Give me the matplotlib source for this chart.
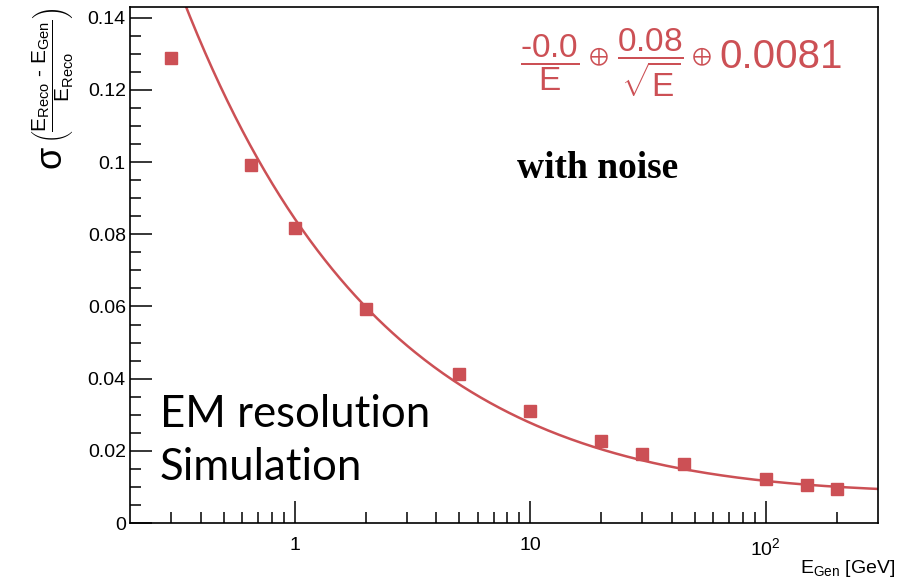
import numpy as np
import matplotlib
matplotlib.use("Agg")
import matplotlib.pyplot as plt
from matplotlib.ticker import FixedLocator, NullFormatter, FixedFormatter, MultipleLocator

plt.rcParams['font.family'] = ['Liberation Sans', 'DejaVu Sans']
plt.rcParams['mathtext.fontset'] = 'custom'
plt.rcParams['mathtext.rm'] = 'Liberation Sans'
plt.rcParams['mathtext.it'] = 'Liberation Sans'
plt.rcParams['mathtext.bf'] = 'Liberation Sans:bold'
plt.rcParams['mathtext.default'] = 'regular'

# ---- data ----
energy = [0.3, 0.65, 1, 2, 5, 10, 20, 30, 45, 100, 150, 200]
resolution = [0.129, 0.0992, 0.0817, 0.0593, 0.0413, 0.031, 0.0227,
              0.0191, 0.0163, 0.0122, 0.0105, 0.0094]
# fit parameters  sigma/E = a/E (+) b/sqrt(E) (+) c
fit_a, fit_b, fit_c = 0.0, 0.084, 0.0081
x_major = [1, 10, 100]
x_major_labels = ["1", "10", "$10^{2}$"]
x_minor = [0.3, 0.4, 0.5, 0.6, 0.7, 0.8, 0.9, 2, 3, 4, 5, 6, 7, 8, 9,
           20, 30, 40, 50, 60, 70, 80, 90, 200]
y_ticks = [0, 0.02, 0.04, 0.06, 0.08, 0.1, 0.12, 0.14]
y_tick_labels = ["0", "0.02", "0.04", "0.06", "0.08", "0.1", "0.12", "0.14"]

red = '#cc5055'

fig = plt.figure(figsize=(8.99, 5.81), dpi=100)
ax = fig.add_axes([130/899, 1-523/581, (878-130)/899, (523-7)/581])

E = np.geomspace(0.2, 300, 400)
fitcurve = np.sqrt((fit_a/E)**2 + (fit_b/np.sqrt(E))**2 + fit_c**2)
ax.plot(E, fitcurve, color=red, lw=1.8, zorder=2)
ax.plot(energy, resolution, 's', color=red, ms=8, mec=red, zorder=3)

ax.set_xscale('log')
ax.set_xlim(0.2, 300)
ax.set_ylim(0, 0.143)

ax.xaxis.set_major_locator(FixedLocator(x_major))
ax.xaxis.set_major_formatter(FixedFormatter(x_major_labels))
ax.xaxis.set_minor_locator(FixedLocator(x_minor))
ax.xaxis.set_minor_formatter(NullFormatter())
ax.yaxis.set_minor_locator(MultipleLocator(0.005))
ax.set_yticks(y_ticks)
ax.set_yticklabels(y_tick_labels)

ax.tick_params(axis='both', which='major', direction='in', length=16, width=1.1,
               labelsize=14, color='black')
ax.tick_params(axis='both', which='minor', direction='in', length=8, width=1.1)
ax.tick_params(axis='x', which='major', pad=10)
ax.tick_params(axis='y', which='major', pad=3)
ax.tick_params(top=False, right=False, which='both')
for s in ax.spines.values():
    s.set_linewidth(1.2)

# x axis title
fig.text(895/899, 1-573/581, r"$E_{Gen}$ [GeV]", fontsize=14,
         ha='right', va='baseline')

# y axis title (ROOT style, placed at top)
fig.text(53/899, 1-8/581,
         r"$\left(\dfrac{E_{Reco}\ \text{-}\ E_{Gen}}{E_{Reco}}\right)$",
         fontsize=15, rotation=90, ha='center', va='top')
fig.text(53/899, 1-170/581, r"$\sigma$", fontsize=26, rotation=90,
         ha='center', va='bottom')

# fit formula
fig.text(520/899, 1-63/581, r"$\dfrac{\text{-}0.0}{E}$", color=red,
         fontsize=24, ha='left', va='center')
fig.text(598/899, 1-57/581, r"$\oplus$", color=red,
         fontsize=17, ha='center', va='center')
fig.text(617/899, 1-63/581, r"$\dfrac{0.08}{\sqrt{E}}$", color=red,
         fontsize=24, ha='left', va='center')
fig.text(701/899, 1-57/581, r"$\oplus$", color=red,
         fontsize=17, ha='center', va='center')
fig.text(719/899, 1-68/581, "0.0081", color=red,
         fontsize=29, ha='left', va='baseline')

fig.text(517/899, 1-178/581, "with noise", family=['Liberation Serif'],
         weight='bold', fontsize=27, ha='left', va='baseline')

fig.text(160/899, 1-427/581, "EM resolution", family=['Lato', 'DejaVu Sans'],
         fontsize=31.5, ha='left', va='baseline')
fig.text(160/899, 1-480/581, "Simulation", family=['Lato', 'DejaVu Sans'],
         fontsize=31.5, ha='left', va='baseline')

fig.savefig("out.png", dpi=100)
